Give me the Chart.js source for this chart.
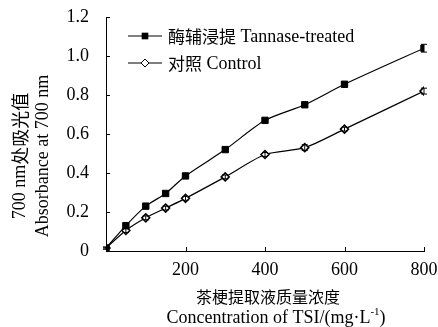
<!DOCTYPE html>
<html>
<head>
<meta charset="utf-8">
<script src="https://cdn.jsdelivr.net/npm/chart.js@4/dist/chart.umd.min.js"></script>
<style>
  html, body { margin: 0; padding: 0; background: #fff; }
  #wrap { width: 438px; height: 327px; position: relative; }
</style>
</head>
<body>
<div id="wrap"><canvas id="myChart"></canvas></div>
<script>
// concentrations of TSI (mg/L)
const conc = [0, 50, 100, 150, 200, 300, 400, 500, 600, 800];
const tannase = [0.015, 0.13, 0.23, 0.295, 0.385, 0.52, 0.67, 0.75, 0.855, 1.04];
const tannaseErr = [0.005, 0.01, 0.01, 0.01, 0.01, 0.01, 0.01, 0.01, 0.01, 0.02];
const control = [0.015, 0.105, 0.17, 0.22, 0.27, 0.38, 0.495, 0.53, 0.625, 0.82];
const controlErr = [0.005, 0.01, 0.01, 0.01, 0.01, 0.01, 0.01, 0.015, 0.01, 0.015];
const xTicks = [200, 400, 600, 800];
const yTicks = [0, 0.2, 0.4, 0.6, 0.8, 1.0, 1.2];

const LATIN = '"Liberation Serif", "Times New Roman", serif';
const CJK = '"Noto Sans CJK SC", sans-serif';

function pts(ys) {
  return conc.map((x, i) => ({x: x, y: ys[i]}));
}

// split text into runs of CJK / latin, each with its own font size
function runs(text) {
  const out = [];
  for (const ch of text) {
    const cjk = /[\u3000-\u9fff]/.test(ch);
    if (out.length && out[out.length - 1].cjk === cjk) out[out.length - 1].t += ch;
    else out.push({t: ch, cjk: cjk});
  }
  return out;
}
function drawMixed(c, text, x, y, align, latinSize, cjkSize) {
  const rs = runs(text);
  let total = 0;
  rs.forEach(r => {
    c.font = r.cjk ? cjkSize + 'px ' + CJK : latinSize + 'px ' + LATIN;
    r.w = c.measureText(r.t).width;
    total += r.w;
  });
  let sx = align === 'center' ? x - total / 2 : x;
  c.textAlign = 'left';
  c.textBaseline = 'middle';
  rs.forEach(r => {
    c.font = r.cjk ? cjkSize + 'px ' + CJK : latinSize + 'px ' + LATIN;
    c.fillText(r.t, sx, y);
    sx += r.w;
  });
}

// draws inward ticks, error bars, legend and axis titles
const extras = {
  id: 'extras',
  afterDatasetsDraw(chart) {
    const c = chart.ctx;
    const xs = chart.scales.x, ys = chart.scales.y;
    c.save();
    c.strokeStyle = '#000';
    c.lineWidth = 1;
    // inward ticks
    c.beginPath();
    yTicks.forEach(v => {
      const py = Math.round(ys.getPixelForValue(v)) + 0.5;
      c.moveTo(xs.left, py); c.lineTo(xs.left + 4, py);
    });
    xTicks.forEach(v => {
      const px = Math.round(xs.getPixelForValue(v)) + 0.5;
      c.moveTo(px, ys.bottom); c.lineTo(px, ys.bottom - 4);
    });
    c.stroke();
    // error bars
    [[tannase, tannaseErr], [control, controlErr]].forEach(([vals, errs]) => {
      c.beginPath();
      vals.forEach((v, i) => {
        const px = xs.getPixelForValue(conc[i]);
        const top = ys.getPixelForValue(v + errs[i]);
        const bot = ys.getPixelForValue(v - errs[i]);
        c.moveTo(px, top); c.lineTo(px, bot);
        c.moveTo(px - 3, top); c.lineTo(px + 3, top);
        c.moveTo(px - 3, bot); c.lineTo(px + 3, bot);
      });
      c.stroke();
    });
    // legend
    c.fillStyle = '#000';
    chart.data.datasets.forEach((ds, i) => {
      const ly = 36 + i * 27;
      c.beginPath();
      c.moveTo(128, ly); c.lineTo(162, ly);
      c.stroke();
      Chart.helpers.drawPoint(c, {
        pointStyle: ds.pointStyle, radius: ds.pointRadius, rotation: 0
      }, 145, ly);
      if (ds.pointStyle === 'rectRot') {
        c.fillStyle = '#fff';
        c.fill();
        c.stroke();
      } else {
        c.fill();
      }
      c.fillStyle = '#000';
      drawMixed(c, ds.label, 168, ly + 1, 'left', 18, 17);
    });
    // axis titles
    const cx = (xs.left + xs.right) / 2 + 3;
    drawMixed(c, '茶梗提取液质量浓度', cx, 297, 'center', 18, 16);
    c.font = '18px ' + LATIN;
    const s1 = 'Concentration of TSI/(mg·L';
    const w1 = c.measureText(s1).width;
    c.font = '11px ' + LATIN;
    const w2 = c.measureText('-1').width;
    c.font = '18px ' + LATIN;
    const w3 = c.measureText(')').width;
    const sx = cx + 8 - (w1 + w2 + w3) / 2;
    c.textAlign = 'left';
    c.textBaseline = 'alphabetic';
    c.fillText(s1, sx, 323);
    c.font = '11px ' + LATIN;
    c.fillText('-1', sx + w1, 315);
    c.font = '18px ' + LATIN;
    c.fillText(')', sx + w1 + w2, 323);
    c.translate(0, 156);
    c.rotate(-Math.PI / 2);
    drawMixed(c, '700 nm处吸光值', 0, 20, 'center', 18, 18);
    drawMixed(c, 'Absorbance at 700 nm', 0, 43, 'center', 18, 18);
    c.restore();
  }
};

const config = {
  type: 'line',
  data: {
    datasets: [
      {
        label: '酶辅浸提 Tannase-treated',
        data: pts(tannase),
        borderColor: '#000',
        borderWidth: 1.2,
        backgroundColor: '#000',
        pointStyle: 'rect',
        pointRadius: 4.5,
        pointBorderWidth: 1,
        pointBorderColor: '#000',
        pointBackgroundColor: '#000',
        tension: 0.25,
      },
      {
        label: '对照 Control',
        data: pts(control),
        borderColor: '#000',
        borderWidth: 1.2,
        backgroundColor: '#fff',
        pointStyle: 'rectRot',
        pointRadius: 4,
        pointBorderWidth: 1.5,
        pointBorderColor: '#000',
        pointBackgroundColor: '#fff',
        tension: 0.25,
      }
    ]
  },
  options: {
    responsive: true,
    maintainAspectRatio: false,
    animation: false,
    layout: { padding: { top: 17, right: 14, left: 0, bottom: 0 } },
    plugins: { legend: { display: false }, tooltip: { enabled: false } },
    scales: {
      x: {
        type: 'linear',
        min: 0, max: 800,
        afterBuildTicks: (s) => { s.ticks = xTicks.map(v => ({value: v})); },
        afterFit: (s) => { s.height = 76; s.paddingLeft = 0; s.paddingRight = 0; },
        grid: { display: false },
        border: { color: '#000', width: 1 },
        ticks: { color: '#000', font: { family: LATIN, size: 18 }, padding: 0, maxRotation: 0 },
      },
      y: {
        min: 0, max: 1.2,
        afterBuildTicks: (s) => { s.ticks = yTicks.map(v => ({value: v})); },
        afterFit: (s) => { s.width = 106; s.paddingTop = 0; s.paddingBottom = 0; },
        grid: { display: false },
        border: { color: '#000', width: 1 },
        ticks: {
          color: '#000', font: { family: LATIN, size: 18 }, padding: 9,
          callback: (v) => v === 0 ? '0' : v.toFixed(1)
        },
      }
    }
  },
  plugins: [extras]
};

const myChart = new Chart(document.getElementById('myChart').getContext('2d'), config);
</script>
</body>
</html>
